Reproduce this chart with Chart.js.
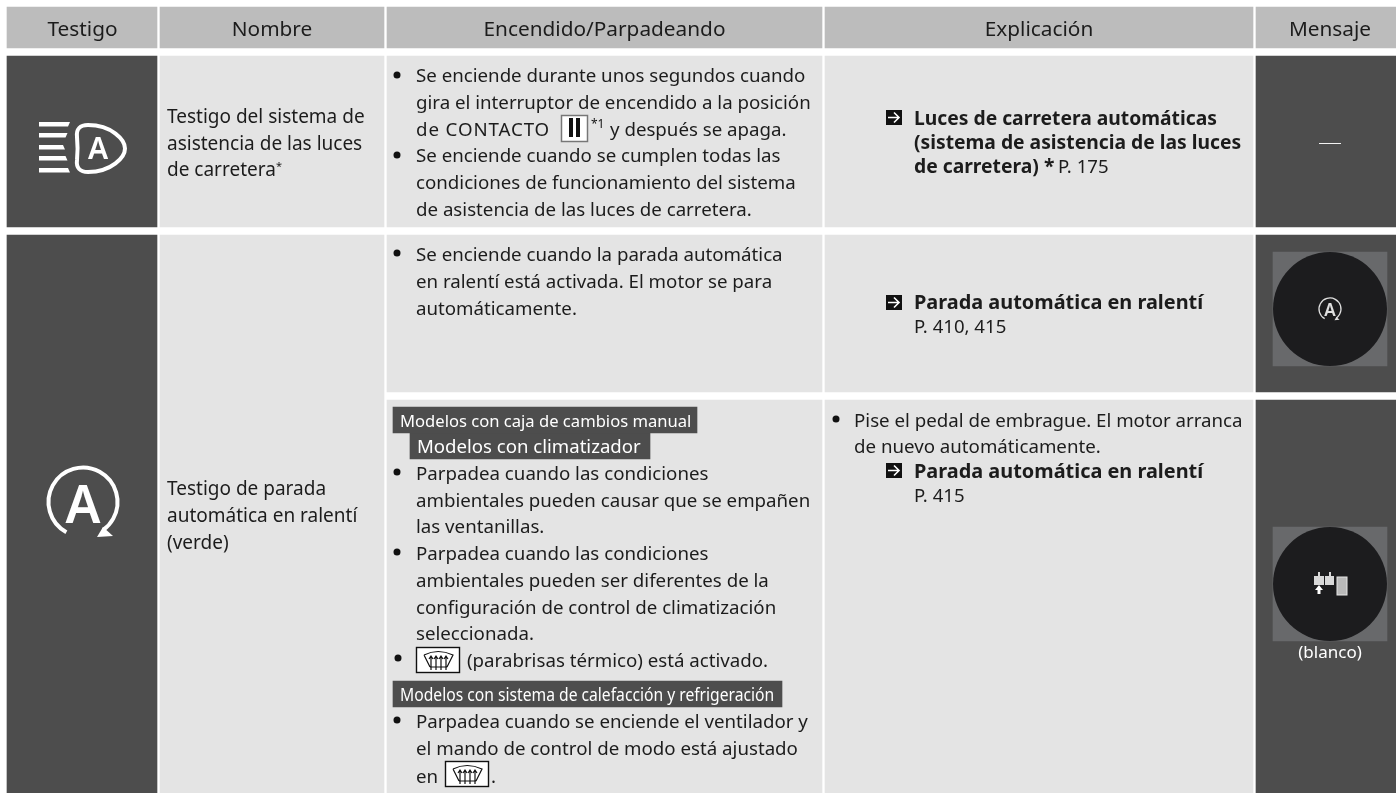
<!DOCTYPE html>
<html lang="es">
<head>
<meta charset="utf-8">
<title>Testigos</title>
<script src="https://cdn.jsdelivr.net/npm/chart.js@4"></script>
<style>
  html, body { margin: 0; padding: 0; background: #fff; }
  #wrap { position: relative; width: 1396px; height: 793px; overflow: hidden; }
</style>
</head>
<body>
<div id="wrap"><canvas id="tabla"></canvas></div>
<script>
// table content
const columnHeaders = ['Testigo', 'Nombre', 'Encendido/Parpadeando', 'Explicación', 'Mensaje'];
const nombreLuces = ['Testigo del sistema de', 'asistencia de las luces', 'de carretera'];
const nombreParada = ['Testigo de parada', 'automática en ralentí', '(verde)'];
const encendidoLucesInicio = [
  'Se enciende durante unos segundos cuando',
  'gira el interruptor de encendido a la posición',
];
const encendidoLucesFin = [
  'Se enciende cuando se cumplen todas las',
  'condiciones de funcionamiento del sistema',
  'de asistencia de las luces de carretera.',
];
const encendidoParada = [
  'Se enciende cuando la parada automática',
  'en ralentí está activada. El motor se para',
  'automáticamente.',
];
const parpadeoClima = [
  'Parpadea cuando las condiciones',
  'ambientales pueden causar que se empañen',
  'las ventanillas.',
  'Parpadea cuando las condiciones',
  'ambientales pueden ser diferentes de la',
  'configuración de control de climatización',
  'seleccionada.',
];
const parpadeoVentilador = [
  'Parpadea cuando se enciende el ventilador y',
  'el mando de control de modo está ajustado',
];
const explicacionLuces = [
  'Luces de carretera automáticas',
  '(sistema de asistencia de las luces',
  'de carretera)',
];
const explicacionEmbrague = ['Pise el pedal de embrague. El motor arranca', 'de nuevo automáticamente.'];
const paradaLink = 'Parada automática en ralentí';
const tagLabels = [
  'Modelos con caja de cambios manual',
  'Modelos con climatizador',
  'Modelos con sistema de calefacción y refrigeración',
];

// table grid, in page pixels
const columnSpans = [[7, 157], [160, 384], [387, 822], [825, 1253], [1256, 1396]];
const headerCenters = [82.5, 272, 604.5, 1039, 1330];
const headerRow = [7, 48];
const lucesRow = [56, 227];
const paradaRow = [235, 793];
const paradaTopRow = [235, 392];
const paradaBottomRow = [400, 793];
const tagSpans = [[393, 697, 407, 433], [410, 650, 433, 459], [393, 782, 681, 707]];
const screenSpans = [[252, 366], [527, 641]];
const screenX = [1273, 1387];

const HEADER = '#bcbcbc';
const DARK = '#4d4d4d';
const LIGHT = '#e4e4e4';
const INK = '#1c1c1c';
const FONT = '"Noto Sans"';

function columnDataset(span, cells) {
  return {
    stack: 'grid',
    barThickness: span[1] - span[0],
    data: cells.map(c => ({ x: (span[0] + span[1]) / 2, y: c.row })),
    backgroundColor: cells.map(c => c.color),
  };
}

// chart.js paints the first dataset last, so tags and screens go first
const datasets = [
  ...tagSpans.map(t => columnDataset([t[0], t[1]], [{ row: [t[2], t[3]], color: DARK }])),
  columnDataset(screenX, screenSpans.map(row => ({ row, color: '#68696b' }))),
  columnDataset(columnSpans[0], [
    { row: headerRow, color: HEADER }, { row: lucesRow, color: DARK }, { row: paradaRow, color: DARK },
  ]),
  columnDataset(columnSpans[1], [
    { row: headerRow, color: HEADER }, { row: lucesRow, color: LIGHT }, { row: paradaRow, color: LIGHT },
  ]),
  columnDataset(columnSpans[2], [
    { row: headerRow, color: HEADER }, { row: lucesRow, color: LIGHT },
    { row: paradaTopRow, color: LIGHT }, { row: paradaBottomRow, color: LIGHT },
  ]),
  columnDataset(columnSpans[3], [
    { row: headerRow, color: HEADER }, { row: lucesRow, color: LIGHT },
    { row: paradaTopRow, color: LIGHT }, { row: paradaBottomRow, color: LIGHT },
  ]),
  columnDataset(columnSpans[4], [
    { row: headerRow, color: HEADER }, { row: lucesRow, color: DARK },
    { row: paradaTopRow, color: DARK }, { row: paradaBottomRow, color: DARK },
  ]),
];

function lines(ctx, rows, x, y, step, font, color) {
  ctx.font = font;
  ctx.fillStyle = color || INK;
  rows.forEach((text, i) => ctx.fillText(text, x, y + i * step));
}

function bullet(ctx, x, y) {
  ctx.fillStyle = '#111';
  ctx.beginPath();
  ctx.arc(x, y, 3.5, 0, Math.PI * 2);
  ctx.fill();
}

function arrowMark(ctx, x, y) {
  ctx.fillStyle = '#111';
  ctx.fillRect(x, y, 16, 15);
  ctx.strokeStyle = '#fff';
  ctx.lineWidth = 1.6;
  ctx.beginPath();
  ctx.moveTo(x + 2, y + 7.5);
  ctx.lineTo(x + 13, y + 7.5);
  ctx.moveTo(x + 8, y + 2.5);
  ctx.lineTo(x + 13, y + 7.5);
  ctx.lineTo(x + 8, y + 12.5);
  ctx.stroke();
}

function autoIcon(ctx, cx, cy, size, color) {
  const k = size / 34.5;
  ctx.save();
  ctx.strokeStyle = color;
  ctx.fillStyle = color;
  ctx.lineWidth = 4 * k;
  ctx.beginPath();
  ctx.arc(cx, cy, size, Math.PI * 0.66, Math.PI * 0.3);
  ctx.stroke();
  // arrow head at the open end of the ring
  ctx.beginPath();
  ctx.moveTo(cx + 14 * k, cy + 35 * k);
  ctx.lineTo(cx + 30 * k, cy + 34 * k);
  ctx.lineTo(cx + 20 * k, cy + 25 * k);
  ctx.closePath();
  ctx.fill();
  ctx.font = `600 ${Math.round(52 * k)}px ${FONT}`;
  ctx.textAlign = 'center';
  ctx.fillText('A', cx, cy + 21 * k);
  ctx.restore();
}

function beamIcon(ctx) {
  ctx.save();
  ctx.fillStyle = '#fff';
  [124, 135, 147, 158, 170].forEach((y, i) => {
    const reach = 65 + Math.abs(2 - i) * 2.5;
    ctx.beginPath();
    ctx.moveTo(39, y - 2);
    ctx.lineTo(i < 2 ? reach : reach - 2, y - 2);
    ctx.lineTo(i < 2 ? reach - 2 : reach, y + 2.5);
    ctx.lineTo(39, y + 2.5);
    ctx.closePath();
    ctx.fill();
  });
  ctx.strokeStyle = '#fff';
  ctx.lineWidth = 4;
  ctx.beginPath();
  ctx.moveTo(88, 125);
  ctx.bezierCurveTo(112, 125, 125, 140, 125, 148.5);
  ctx.bezierCurveTo(125, 157, 112, 172, 88, 172);
  ctx.bezierCurveTo(80, 172, 76, 168, 77, 160);
  ctx.bezierCurveTo(78, 150, 78, 147, 77, 137);
  ctx.bezierCurveTo(76, 129, 80, 125, 88, 125);
  ctx.stroke();
  ctx.fillStyle = '#fff';
  ctx.font = `600 30px ${FONT}`;
  ctx.textAlign = 'center';
  ctx.fillText('A', 98, 159);
  ctx.restore();
}

function plugIcon(ctx) {
  ctx.save();
  ctx.fillStyle = '#d8d8d8';
  ctx.fillRect(1314, 576, 10, 9);
  ctx.fillRect(1325, 576, 9, 9);
  ctx.fillRect(1318, 572, 2, 4);
  ctx.fillRect(1329, 572, 2, 4);
  ctx.fillStyle = '#b9b9b9';
  ctx.strokeStyle = '#e6e6e6';
  ctx.lineWidth = 1;
  ctx.fillRect(1337, 577, 10, 18);
  ctx.strokeRect(1337, 577, 10, 18);
  ctx.fillStyle = '#fff';
  ctx.beginPath();
  ctx.moveTo(1319, 585);
  ctx.lineTo(1323, 590);
  ctx.lineTo(1320.5, 590);
  ctx.lineTo(1320.5, 594);
  ctx.lineTo(1317.5, 594);
  ctx.lineTo(1317.5, 590);
  ctx.lineTo(1315, 590);
  ctx.closePath();
  ctx.fill();
  ctx.restore();
}

function defrostBox(ctx, x, y) {
  ctx.save();
  ctx.fillStyle = '#fff';
  ctx.fillRect(x, y, 44, 26);
  ctx.strokeStyle = '#111';
  ctx.lineWidth = 1.4;
  ctx.strokeRect(x + 0.5, y + 0.5, 43, 25);
  ctx.lineWidth = 1.2;
  ctx.beginPath();
  ctx.moveTo(x + 8, y + 8);
  ctx.quadraticCurveTo(x + 22, y + 1, x + 37, y + 8);
  ctx.lineTo(x + 31, y + 20);
  ctx.moveTo(x + 8, y + 8);
  ctx.lineTo(x + 14, y + 20);
  ctx.moveTo(x + 14, y + 20);
  ctx.lineTo(x + 31, y + 20);
  [15, 20, 25, 30].forEach(dx => {
    ctx.moveTo(x + dx, y + 23);
    ctx.lineTo(x + dx, y + 9);
    ctx.moveTo(x + dx - 2, y + 12);
    ctx.lineTo(x + dx, y + 9);
    ctx.lineTo(x + dx + 2, y + 12);
  });
  ctx.stroke();
  ctx.restore();
}

const tableText = {
  id: 'tableText',
  afterDatasetsDraw(chart) {
    const { ctx } = chart;
    const body = `18.7px ${FONT}`;
    const name = `19px ${FONT}`;
    const bold = `700 19.3px ${FONT}`;
    const link = `700 19.9px ${FONT}`;
    const small = `18.6px ${FONT}`;
    ctx.save();
    ctx.textBaseline = 'alphabetic';
    ctx.textAlign = 'center';
    ctx.font = `20.8px ${FONT}`;
    ctx.fillStyle = INK;
    columnHeaders.forEach((h, i) => ctx.fillText(h, headerCenters[i], 36));
    ctx.textAlign = 'left';

    lines(ctx, nombreLuces, 167, 123, 26.5, name);
    ctx.font = `11px ${FONT}`;
    ctx.fillText('*', 276, 170);
    lines(ctx, nombreParada, 167, 495, 27, name);

    bullet(ctx, 397, 75);
    bullet(ctx, 397, 155);
    lines(ctx, encendidoLucesInicio, 416, 82, 26.8, body);
    ctx.letterSpacing = '0.9px';
    lines(ctx, ['de CONTACTO'], 416, 136, 0, body);
    ctx.letterSpacing = '0px';
    lines(ctx, encendidoLucesFin, 416, 162.4, 26.8, body);
    ctx.fillStyle = '#fff';
    ctx.fillRect(562, 116, 25, 25);
    ctx.strokeStyle = '#777';
    ctx.lineWidth = 1.5;
    ctx.strokeRect(561.5, 115.5, 26, 26);
    ctx.fillStyle = '#111';
    ctx.fillRect(569, 118, 4, 19);
    ctx.fillRect(576, 118, 4, 19);
    ctx.font = `12px ${FONT}`;
    ctx.fillText('*1', 591, 128);
    lines(ctx, ['y después se apaga.'], 610, 136, 0, body);

    bullet(ctx, 397, 253);
    lines(ctx, encendidoParada, 416, 261, 27, body);

    lines(ctx, [tagLabels[0]], 400, 427, 0, `16.6px ${FONT}`, '#fff');
    lines(ctx, [tagLabels[1]], 417, 453, 0, `18.6px ${FONT}`, '#fff');
    bullet(ctx, 397, 472);
    bullet(ctx, 397, 552);
    bullet(ctx, 398, 658);
    lines(ctx, parpadeoClima, 416, 480, 26.7, body);
    defrostBox(ctx, 416, 647);
    lines(ctx, ['(parabrisas térmico) está activado.'], 467, 667, 0, body);
    ctx.save();
    ctx.font = `18px ${FONT}`;
    ctx.translate(400, 701);
    ctx.scale(0.87, 1);
    ctx.fillStyle = '#fff';
    ctx.fillText(tagLabels[2], 0, 0);
    ctx.restore();
    bullet(ctx, 397, 720);
    lines(ctx, parpadeoVentilador, 416, 728, 27, body);
    lines(ctx, ['en'], 416, 783, 0, body);
    defrostBox(ctx, 445, 761);
    lines(ctx, ['.'], 491, 783, 0, body);

    arrowMark(ctx, 886, 110);
    lines(ctx, explicacionLuces, 914, 125, 24, bold);
    ctx.fillText('*', 1044, 173);
    lines(ctx, ['P. 175'], 1058, 173, 0, small);

    arrowMark(ctx, 886, 295);
    lines(ctx, [paradaLink], 914, 309, 0, link);
    lines(ctx, ['P. 410, 415'], 914, 333, 0, small);

    bullet(ctx, 836, 419);
    lines(ctx, explicacionEmbrague, 854, 427, 26, body);
    arrowMark(ctx, 886, 463);
    lines(ctx, [paradaLink], 914, 478, 0, link);
    lines(ctx, ['P. 415'], 914, 502, 0, small);

    beamIcon(ctx);
    autoIcon(ctx, 83, 502, 34.5, '#fff');

    ctx.fillStyle = '#f2f2f2';
    ctx.fillRect(1319, 143, 22, 1);
    ctx.fillStyle = '#1c1c1e';
    ctx.beginPath();
    ctx.arc(1330, 309, 57, 0, Math.PI * 2);
    ctx.fill();
    ctx.beginPath();
    ctx.arc(1330, 584, 57, 0, Math.PI * 2);
    ctx.fill();
    autoIcon(ctx, 1330, 309, 11, '#e0e0e0');
    plugIcon(ctx);
    ctx.textAlign = 'center';
    ctx.font = `17px ${FONT}`;
    ctx.fillStyle = '#fff';
    ctx.fillText('(blanco)', 1330, 658);
    ctx.restore();
  },
};

new Chart(document.getElementById('tabla'), {
  type: 'bar',
  data: { datasets },
  plugins: [tableText],
  options: {
    responsive: true,
    maintainAspectRatio: false,
    animation: false,
    events: [],
    layout: { padding: 0 },
    plugins: { legend: { display: false }, tooltip: { enabled: false } },
    scales: {
      x: { type: 'linear', min: 0, max: 1396, offset: false, display: false },
      y: { type: 'linear', min: 0, max: 793, reverse: true, stacked: false, display: false },
    },
  },
});
</script>
</body>
</html>
